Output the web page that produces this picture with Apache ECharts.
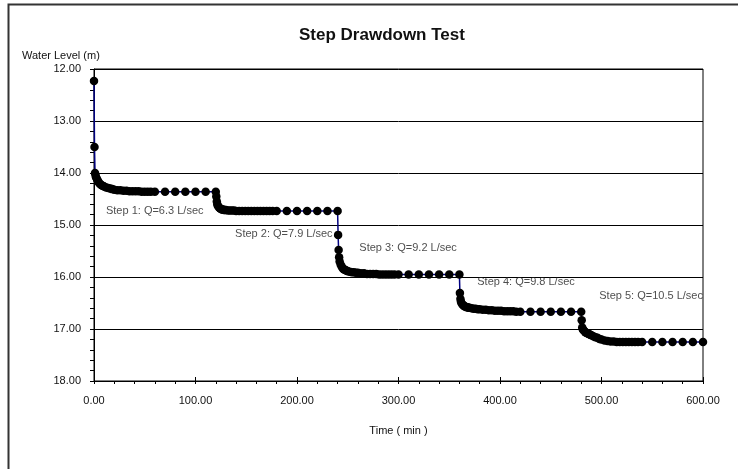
<!DOCTYPE html>
<html>
<head>
<meta charset="utf-8">
<title>Step Drawdown Test</title>
<script src="https://cdn.jsdelivr.net/npm/echarts@6/dist/echarts.min.js"></script>
<style>
  html, body { margin: 0; padding: 0; background: #fff; }
  #chart { width: 738px; height: 469px; }
</style>
</head>
<body>
<div id="chart"></div>
<script>
// Elapsed time (min) and measured water level (m below datum) for each pumping step
const step1Time = [0, 0.5, 1, 1.5, 2, 3, 4, 5, 6, 7, 8, 9, 10, 12, 14, 16, 18, 20, 23, 26, 29, 32, 35, 38, 41, 44, 47, 50, 53, 56, 60, 70, 80, 90, 100, 110, 120];
const step1Level = [12.23, 13.50, 14.00, 14.04, 14.08, 14.12, 14.16, 14.19, 14.21, 14.23, 14.24, 14.25, 14.26, 14.28, 14.29, 14.30, 14.31, 14.32, 14.33, 14.33, 14.34, 14.34, 14.35, 14.35, 14.35, 14.35, 14.36, 14.36, 14.36, 14.36, 14.36, 14.36, 14.36, 14.36, 14.36, 14.36, 14.36];

const step2Time = [120.5, 121, 121.5, 122, 123, 124, 125, 126, 127, 128, 129, 130, 132, 134, 136, 138, 140, 143, 146, 149, 152, 155, 158, 161, 164, 167, 170, 173, 176, 180, 190, 200, 210, 220, 230, 240];
const step2Level = [14.45, 14.55, 14.60, 14.63, 14.66, 14.68, 14.69, 14.70, 14.70, 14.71, 14.71, 14.71, 14.72, 14.72, 14.72, 14.72, 14.73, 14.73, 14.73, 14.73, 14.73, 14.73, 14.73, 14.73, 14.73, 14.73, 14.73, 14.73, 14.73, 14.73, 14.73, 14.73, 14.73, 14.73, 14.73, 14.73];

const step3Time = [240.5, 241, 241.5, 242, 243, 244, 245, 246, 247, 248, 249, 250, 252, 254, 256, 258, 260, 263, 266, 269, 272, 275, 278, 281, 284, 287, 290, 293, 296, 300, 310, 320, 330, 340, 350, 360];
const step3Level = [15.19, 15.48, 15.62, 15.70, 15.76, 15.80, 15.83, 15.85, 15.86, 15.87, 15.88, 15.89, 15.90, 15.91, 15.91, 15.92, 15.92, 15.93, 15.93, 15.94, 15.94, 15.94, 15.94, 15.95, 15.95, 15.95, 15.95, 15.95, 15.95, 15.95, 15.95, 15.95, 15.95, 15.95, 15.95, 15.95];

const step4Time = [360.5, 361, 361.5, 362, 363, 364, 365, 366, 367, 368, 369, 370, 372, 374, 376, 378, 380, 383, 386, 389, 392, 395, 398, 401, 404, 407, 410, 413, 416, 420, 430, 440, 450, 460, 470, 480];
const step4Level = [16.31, 16.42, 16.47, 16.50, 16.53, 16.55, 16.56, 16.57, 16.58, 16.58, 16.59, 16.59, 16.60, 16.61, 16.61, 16.62, 16.62, 16.63, 16.63, 16.64, 16.64, 16.65, 16.65, 16.65, 16.66, 16.66, 16.66, 16.66, 16.67, 16.67, 16.67, 16.67, 16.67, 16.67, 16.67, 16.67];

const step5Time = [480.5, 481, 481.5, 482, 483, 484, 485, 486, 487, 488, 489, 490, 492, 494, 496, 498, 500, 503, 506, 509, 512, 515, 518, 521, 524, 527, 530, 533, 536, 540, 550, 560, 570, 580, 590, 600];
const step5Level = [16.83, 16.97, 17.00, 17.02, 17.04, 17.06, 17.07, 17.08, 17.09, 17.10, 17.11, 17.12, 17.14, 17.16, 17.17, 17.19, 17.20, 17.22, 17.23, 17.24, 17.24, 17.25, 17.25, 17.25, 17.25, 17.25, 17.25, 17.25, 17.25, 17.25, 17.25, 17.25, 17.25, 17.25, 17.25, 17.25];

// Step annotations: text with the anchor (time, level) of its left edge
const stepLabels = ['Step 1: Q=6.3 L/sec', 'Step 2: Q=7.9 L/sec', 'Step 3: Q=9.2 L/sec', 'Step 4: Q=9.8 L/sec', 'Step 5: Q=10.5 L/sec'];
const stepLabelTime = [11.8, 139, 261.4, 377.6, 497.8];
const stepLabelLevel = [14.73, 15.17, 15.44, 16.10, 16.37];

// Axis ranges
const timeMin = 0, timeMax = 600, timeStep = 100;
const levelMin = 12, levelMax = 18, levelStep = 1;

const FONT = "'Liberation Sans', Arial, Helvetica, sans-serif";

function pairs(ts, vs) { return ts.map((t, i) => [t, vs[i]]); }
const drawdown = [].concat(
  pairs(step1Time, step1Level),
  pairs(step2Time, step2Level),
  pairs(step3Time, step3Level),
  pairs(step4Time, step4Level),
  pairs(step5Time, step5Level)
);
const annotations = stepLabels.map((name, i) => ({ name: name, value: [stepLabelTime[i], stepLabelLevel[i]] }));

const chart = echarts.init(document.getElementById('chart'), null, { renderer: 'canvas' });

const fmt2 = v => Number(v).toFixed(2);

chart.setOption({
  backgroundColor: '#fff',
  animation: false,
  title: {
    text: 'Step Drawdown Test',
    left: 294,
    top: 22,
    textStyle: { fontFamily: FONT, fontSize: 17, fontWeight: 'bold', color: '#111' }
  },
  grid: {
    left: 94, top: 69, width: 609, height: 312,
    show: true, borderColor: '#000', borderWidth: 1, backgroundColor: 'transparent'
  },
  xAxis: [
    {
      type: 'value', min: timeMin, max: timeMax, interval: timeStep,
      name: 'Time ( min )', nameLocation: 'middle', nameGap: 44,
      nameTextStyle: { fontFamily: FONT, fontSize: 11, color: '#111' },
      axisLine: { show: true, onZero: false, lineStyle: { color: '#000', width: 1 } },
      axisTick: { show: true, inside: false, length: 3, lineStyle: { color: '#000' } },
      minorTick: { show: true, splitNumber: 5, length: 3, lineStyle: { color: '#000' } },
      splitLine: { show: false },
      axisLabel: { margin: 14, formatter: fmt2, fontFamily: FONT, fontSize: 11, color: '#111' }
    },
    {
      // upper half of the crossing major ticks
      type: 'value', min: timeMin, max: timeMax, interval: timeStep, position: 'bottom',
      axisLine: { show: false, onZero: false },
      axisTick: { show: true, inside: true, length: 4, lineStyle: { color: '#000' } },
      axisLabel: { show: false },
      splitLine: { show: false }
    }
  ],
  yAxis: {
    type: 'value', inverse: true, min: levelMin, max: levelMax, interval: levelStep,
    axisLine: { show: true, onZero: false, lineStyle: { color: '#000', width: 1 } },
    axisTick: { show: true, inside: false, length: 4, lineStyle: { color: '#000' } },
    minorTick: { show: true, splitNumber: 5, length: 4, lineStyle: { color: '#000' } },
    splitLine: { show: true, lineStyle: { color: '#000', width: 1 } },
    axisLabel: { margin: 13, formatter: fmt2, fontFamily: FONT, fontSize: 11, color: '#111' }
  },
  graphic: [
    {
      type: 'polyline',
      shape: { points: [[8.5, 480], [8.5, 4.5], [760, 4.5]] },
      style: { stroke: '#333', lineWidth: 2, fill: null },
      silent: true
    },
    {
      type: 'text',
      left: 22, top: 50,
      style: { text: 'Water Level (m)', font: '11px ' + FONT, fill: '#111' },
      silent: true
    }
  ],
  series: [
    {
      name: 'Water Level',
      type: 'line',
      data: drawdown,
      showAllSymbol: true,
      symbol: 'circle',
      symbolSize: 8.5,
      itemStyle: { color: '#000' },
      lineStyle: { color: '#000080', width: 1.5 },
      z: 3
    },
    {
      name: 'Steps',
      type: 'scatter',
      data: annotations,
      symbolSize: 0,
      silent: true,
      label: {
        show: true, position: 'right', distance: 0,
        formatter: p => p.name,
        fontFamily: FONT, fontSize: 11, color: '#222'
      },
      z: 4
    }
  ]
});
</script>
</body>
</html>
